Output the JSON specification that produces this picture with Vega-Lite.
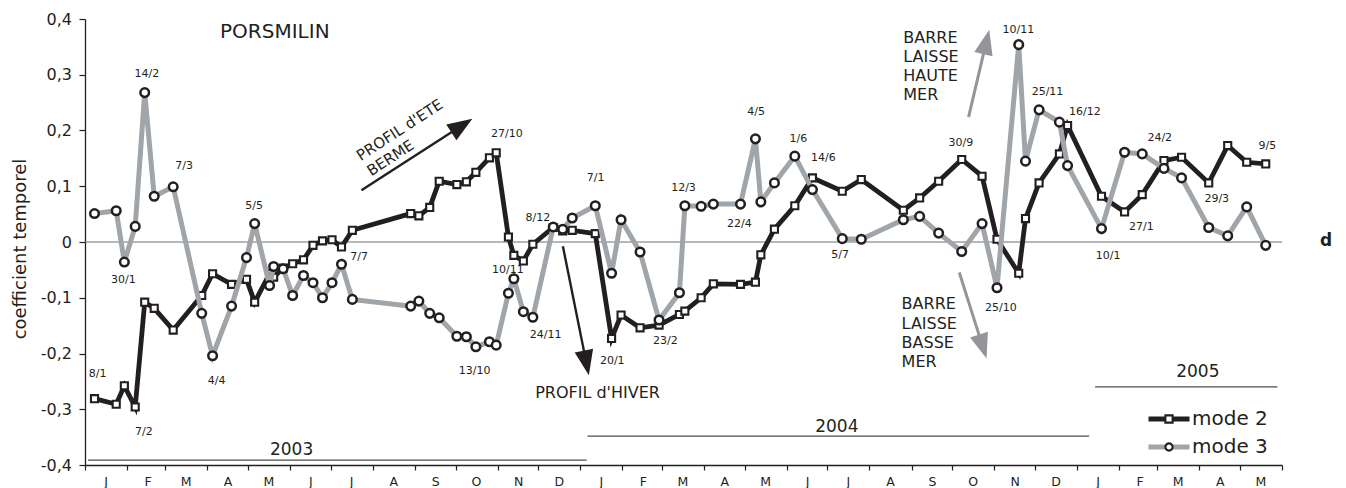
{
  "$schema": "https://vega.github.io/schema/vega-lite/v6.json",
  "width": 1197,
  "height": 446,
  "autosize": {"type": "none"},
  "padding": {"left": 85, "top": 19, "right": 64, "bottom": 23},
  "background": "white",
  "config": {"view": {"stroke": null}, "font": "DejaVu Sans", "axis": {"grid": false}},
  "resolve": {"axis": {"x": "independent", "y": "independent"}},
  "datasets": {
    "series": [
      {"date": "2003-01-08T00:00", "mode 2": -0.281, "mode 3": 0.051},
      {"date": "2003-01-24T00:00", "mode 2": -0.291, "mode 3": 0.056},
      {"date": "2003-01-30T00:00", "mode 2": -0.258, "mode 3": -0.036},
      {"date": "2003-02-07T00:00", "mode 2": -0.296, "mode 3": 0.028},
      {"date": "2003-02-14T00:00", "mode 2": -0.108, "mode 3": 0.268},
      {"date": "2003-02-21T00:00", "mode 2": -0.119, "mode 3": 0.082},
      {"date": "2003-03-07T00:00", "mode 2": -0.158, "mode 3": 0.099},
      {"date": "2003-03-28T00:00", "mode 2": -0.096, "mode 3": -0.128},
      {"date": "2003-04-05T00:00", "mode 2": -0.057, "mode 3": -0.204},
      {"date": "2003-04-19T00:00", "mode 2": -0.076, "mode 3": -0.115},
      {"date": "2003-04-30T00:00", "mode 2": -0.067, "mode 3": -0.028},
      {"date": "2003-05-06T00:00", "mode 2": -0.108, "mode 3": 0.033},
      {"date": "2003-05-17T00:00", "mode 2": -0.057, "mode 3": -0.078},
      {"date": "2003-05-20T00:00", "mode 2": -0.063, "mode 3": -0.044},
      {"date": "2003-05-27T00:00", "mode 2": -0.047, "mode 3": -0.048},
      {"date": "2003-06-03T00:00", "mode 2": -0.039, "mode 3": -0.096},
      {"date": "2003-06-11T00:00", "mode 2": -0.032, "mode 3": -0.060},
      {"date": "2003-06-18T00:00", "mode 2": -0.006, "mode 3": -0.073},
      {"date": "2003-06-25T00:00", "mode 2": 0.002, "mode 3": -0.100},
      {"date": "2003-07-02T00:00", "mode 2": 0.004, "mode 3": -0.073},
      {"date": "2003-07-09T00:00", "mode 2": -0.009, "mode 3": -0.040},
      {"date": "2003-07-17T00:00", "mode 2": 0.021, "mode 3": -0.103},
      {"date": "2003-08-29T00:00", "mode 2": 0.051, "mode 3": -0.115},
      {"date": "2003-09-04T00:00", "mode 2": 0.047, "mode 3": -0.106},
      {"date": "2003-09-12T00:00", "mode 2": 0.062, "mode 3": -0.128},
      {"date": "2003-09-19T00:00", "mode 2": 0.109, "mode 3": -0.136},
      {"date": "2003-10-02T00:00", "mode 2": 0.103, "mode 3": -0.169},
      {"date": "2003-10-09T00:00", "mode 2": 0.108, "mode 3": -0.170},
      {"date": "2003-10-16T00:00", "mode 2": 0.125, "mode 3": -0.188},
      {"date": "2003-10-26T00:00", "mode 2": 0.151, "mode 3": -0.179},
      {"date": "2003-10-31T00:00", "mode 2": 0.160, "mode 3": -0.185},
      {"date": "2003-11-09T00:00", "mode 2": 0.009, "mode 3": -0.092},
      {"date": "2003-11-13T00:00", "mode 2": -0.024, "mode 3": -0.066},
      {"date": "2003-11-20T00:00", "mode 2": -0.034, "mode 3": -0.125},
      {"date": "2003-11-27T00:00", "mode 2": -0.004, "mode 3": -0.135},
      {"date": "2003-12-12T00:00", "mode 2": 0.026, "mode 3": 0.027},
      {"date": "2003-12-19T00:00", "mode 2": 0.020, "mode 3": 0.023},
      {"date": "2003-12-26T00:00", "mode 2": 0.021, "mode 3": 0.043},
      {"date": "2004-01-12T00:00", "mode 2": 0.015, "mode 3": 0.065},
      {"date": "2004-01-24T00:00", "mode 2": -0.173, "mode 3": -0.056},
      {"date": "2004-01-31T00:00", "mode 2": -0.131, "mode 3": 0.040},
      {"date": "2004-02-14T00:00", "mode 2": -0.154, "mode 3": -0.018},
      {"date": "2004-02-28T00:00", "mode 2": -0.149, "mode 3": -0.140},
      {"date": "2004-03-14T00:00", "mode 2": -0.130, "mode 3": -0.091},
      {"date": "2004-03-18T00:00", "mode 2": -0.124, "mode 3": 0.065},
      {"date": "2004-03-30T00:00", "mode 2": -0.100, "mode 3": 0.064},
      {"date": "2004-04-08T00:00", "mode 2": -0.075, "mode 3": 0.068},
      {"date": "2004-04-28T00:00", "mode 2": -0.076, "mode 3": 0.068},
      {"date": "2004-05-09T00:00", "mode 2": -0.072, "mode 3": 0.185},
      {"date": "2004-05-13T00:00", "mode 2": -0.023, "mode 3": 0.072},
      {"date": "2004-05-23T00:00", "mode 2": 0.023, "mode 3": 0.106},
      {"date": "2004-06-07T00:00", "mode 2": 0.065, "mode 3": 0.154},
      {"date": "2004-06-20T00:00", "mode 2": 0.115, "mode 3": 0.094},
      {"date": "2004-07-12T00:00", "mode 2": 0.091, "mode 3": 0.006},
      {"date": "2004-07-26T00:00", "mode 2": 0.112, "mode 3": 0.005},
      {"date": "2004-08-26T00:00", "mode 2": 0.057, "mode 3": 0.040},
      {"date": "2004-09-07T00:00", "mode 2": 0.079, "mode 3": 0.046},
      {"date": "2004-09-21T00:00", "mode 2": 0.109, "mode 3": 0.016},
      {"date": "2004-10-08T00:00", "mode 2": 0.148, "mode 3": -0.017},
      {"date": "2004-10-23T00:00", "mode 2": 0.118, "mode 3": 0.033},
      {"date": "2004-11-03T00:00", "mode 2": 0.005, "mode 3": -0.082},
      {"date": "2004-11-19T00:00", "mode 2": -0.056, "mode 3": 0.354},
      {"date": "2004-11-24T00:00", "mode 2": 0.042, "mode 3": 0.145},
      {"date": "2004-12-04T00:00", "mode 2": 0.106, "mode 3": 0.237},
      {"date": "2004-12-19T00:00", "mode 2": 0.158, "mode 3": 0.215},
      {"date": "2004-12-25T00:00", "mode 2": 0.209, "mode 3": 0.137},
      {"date": "2005-01-19T00:00", "mode 2": 0.082, "mode 3": 0.024},
      {"date": "2005-02-05T00:00", "mode 2": 0.054, "mode 3": 0.161},
      {"date": "2005-02-18T00:00", "mode 2": 0.085, "mode 3": 0.158},
      {"date": "2005-03-06T00:00", "mode 2": 0.146, "mode 3": 0.132},
      {"date": "2005-03-19T00:00", "mode 2": 0.152, "mode 3": 0.115},
      {"date": "2005-04-08T00:00", "mode 2": 0.106, "mode 3": 0.026},
      {"date": "2005-04-22T00:00", "mode 2": 0.173, "mode 3": 0.011},
      {"date": "2005-05-06T00:00", "mode 2": 0.143, "mode 3": 0.063},
      {"date": "2005-05-20T00:00", "mode 2": 0.140, "mode 3": -0.006}
    ],
    "dateLabels": [
      {"label": "8/1", "date": "2003-01-10T08:00", "value": -0.2371},
      {"label": "30/1", "date": "2003-01-29T05:00", "value": -0.0686},
      {"label": "14/2", "date": "2003-02-15T14:00", "value": 0.3018},
      {"label": "7/2", "date": "2003-02-13T10:00", "value": -0.3416},
      {"label": "7/3", "date": "2003-03-15T02:00", "value": 0.1362},
      {"label": "4/4", "date": "2003-04-08T00:00", "value": -0.2491},
      {"label": "5/5", "date": "2003-05-05T14:00", "value": 0.0645},
      {"label": "7/7", "date": "2003-07-21T22:00", "value": -0.0269},
      {"label": "13/10", "date": "2003-10-15T02:00", "value": -0.2312},
      {"label": "27/10", "date": "2003-11-07T22:00", "value": 0.1943},
      {"label": "10/11", "date": "2003-11-08T14:00", "value": -0.0495},
      {"label": "24/11", "date": "2003-12-06T10:00", "value": -0.1677},
      {"label": "8/12", "date": "2003-11-30T17:00", "value": 0.0437},
      {"label": "7/1", "date": "2004-01-12T05:00", "value": 0.1147},
      {"label": "20/1", "date": "2004-01-24T12:00", "value": -0.2133},
      {"label": "23/2", "date": "2004-03-03T17:00", "value": -0.1774},
      {"label": "12/3", "date": "2004-03-17T00:00", "value": 0.0975},
      {"label": "22/4", "date": "2004-04-27T05:00", "value": 0.033},
      {"label": "4/5", "date": "2004-05-09T12:00", "value": 0.233},
      {"label": "1/6", "date": "2004-06-09T17:00", "value": 0.1853},
      {"label": "14/6", "date": "2004-06-28T02:00", "value": 0.1513},
      {"label": "5/7", "date": "2004-07-10T10:00", "value": -0.0238},
      {"label": "30/9", "date": "2004-10-07T10:00", "value": 0.1774},
      {"label": "25/10", "date": "2004-11-05T22:00", "value": -0.1183},
      {"label": "10/11", "date": "2004-11-18T19:00", "value": 0.3794},
      {"label": "25/11", "date": "2004-12-10T05:00", "value": 0.2688},
      {"label": "16/12", "date": "2005-01-06T17:00", "value": 0.2324},
      {"label": "10/1", "date": "2005-01-23T22:00", "value": -0.0251},
      {"label": "27/1", "date": "2005-02-17T10:00", "value": 0.0269},
      {"label": "24/2", "date": "2005-03-02T22:00", "value": 0.1864},
      {"label": "29/3", "date": "2005-04-13T22:00", "value": 0.0765},
      {"label": "9/5", "date": "2005-05-21T05:00", "value": 0.172}
    ],
    "years": [
      {"year": "2003", "start": "2003-01-03T05:00", "end": "2004-01-05T14:00", "value": -0.3912, "labelDate": "2003-06-02T05:00", "labelValue": -0.3733},
      {"year": "2004", "start": "2004-01-06T07:00", "end": "2005-01-09T22:00", "value": -0.3482, "labelDate": "2004-07-08T00:00", "labelValue": -0.3315},
      {"year": "2005", "start": "2005-01-14T07:00", "end": "2005-05-28T14:00", "value": -0.2599, "labelDate": "2005-03-31T00:00", "labelValue": -0.233}
    ],
    "arrows": [
      {"arrow": "ete", "date": "2003-07-23T17:00", "value": 0.0927, "date2": "2003-10-06T00:00", "value2": 0.2095, "tipDate": "2003-10-13T10:00", "tipValue": 0.2211},
      {"arrow": "hiver", "date": "2003-12-19T03:00", "value": -0.0077, "date2": "2004-01-05T12:00", "value2": -0.2177, "tipDate": "2004-01-07T06:00", "tipValue": -0.2389},
      {"arrow": "haute", "date": "2004-10-13T01:00", "value": 0.224, "date2": "2004-10-26T05:00", "value2": 0.3597, "tipDate": "2004-10-28T06:00", "tipValue": 0.3806},
      {"arrow": "basse", "date": "2004-10-06T05:00", "value": -0.0548, "date2": "2004-10-23T15:00", "value2": -0.1885, "tipDate": "2004-10-26T07:00", "tipValue": -0.209}
    ],
    "barre": [
      {"text": "BARRE", "date": "2004-08-25T23:00", "value": 0.3656},
      {"text": "LAISSE", "date": "2004-08-25T23:00", "value": 0.3315},
      {"text": "HAUTE", "date": "2004-08-25T23:00", "value": 0.2975},
      {"text": "MER", "date": "2004-08-25T23:00", "value": 0.2634},
      {"text": "BARRE", "date": "2004-08-24T17:00", "value": -0.1116},
      {"text": "LAISSE", "date": "2004-08-24T17:00", "value": -0.1462},
      {"text": "BASSE", "date": "2004-08-24T17:00", "value": -0.1803},
      {"text": "MER", "date": "2004-08-24T17:00", "value": -0.2151}
    ],
    "ete": [
      {"text": "PROFIL d'ETE", "date": "2003-08-20T22:00", "value": 0.201},
      {"text": "BERME", "date": "2003-08-14T03:00", "value": 0.1509}
    ]
  },
  "layer": [
    {
      "data": {"values": [{}]},
      "mark": {"type": "rule", "color": "#6d6e71", "strokeWidth": 1},
      "encoding": {"y": {"datum": 0, "type": "quantitative", "axis": null}}
    },
    {
      "data": {"name": "years"},
      "mark": {"type": "rule", "color": "#4d4d4f", "strokeWidth": 1.2},
      "encoding": {
        "x": {"field": "start", "type": "temporal", "axis": null},
        "x2": {"field": "end"},
        "y": {"field": "value", "type": "quantitative", "axis": null}
      }
    },
    {
      "data": {"name": "years"},
      "mark": {"type": "text", "fontSize": 17, "color": "#231f20", "align": "center", "baseline": "middle"},
      "encoding": {
        "x": {"field": "labelDate", "type": "temporal", "axis": null},
        "y": {"field": "labelValue", "type": "quantitative", "axis": null},
        "text": {"field": "year"}
      }
    },
    {
      "data": {"name": "arrows"},
      "transform": [{"filter": "datum.arrow == 'ete' || datum.arrow == 'hiver'"}],
      "mark": {"type": "rule", "color": "#231f20", "strokeWidth": 2.4},
      "encoding": {
        "x": {"field": "date", "type": "temporal", "axis": null},
        "y": {"field": "value", "type": "quantitative", "axis": null},
        "x2": {"field": "date2"},
        "y2": {"field": "value2"}
      }
    },
    {
      "data": {"name": "arrows"},
      "transform": [{"filter": "datum.arrow == 'haute' || datum.arrow == 'basse'"}],
      "mark": {"type": "rule", "color": "#939598", "strokeWidth": 3},
      "encoding": {
        "x": {"field": "date", "type": "temporal", "axis": null},
        "y": {"field": "value", "type": "quantitative", "axis": null},
        "x2": {"field": "date2"},
        "y2": {"field": "value2"}
      }
    },
    {
      "data": {"name": "arrows"},
      "transform": [{"filter": "datum.arrow == 'ete'"}],
      "mark": {"type": "point", "filled": true, "shape": "M0,0L-0.75,2L0.75,2Z", "size": 625, "angle": 57.1, "color": "#231f20", "opacity": 1, "strokeWidth": 0},
      "encoding": {
        "x": {"field": "tipDate", "type": "temporal", "axis": null},
        "y": {"field": "tipValue", "type": "quantitative", "axis": null}
      }
    },
    {
      "data": {"name": "arrows"},
      "transform": [{"filter": "datum.arrow == 'hiver'"}],
      "mark": {"type": "point", "filled": true, "shape": "M0,0L-0.75,2L0.75,2Z", "size": 625, "angle": 168.6, "color": "#231f20", "opacity": 1, "strokeWidth": 0},
      "encoding": {
        "x": {"field": "tipDate", "type": "temporal", "axis": null},
        "y": {"field": "tipValue", "type": "quantitative", "axis": null}
      }
    },
    {
      "data": {"name": "arrows"},
      "transform": [{"filter": "datum.arrow == 'haute'"}],
      "mark": {"type": "point", "filled": true, "shape": "M0,0L-0.75,2L0.75,2Z", "size": 625, "angle": 13.3, "color": "#939598", "opacity": 1, "strokeWidth": 0},
      "encoding": {
        "x": {"field": "tipDate", "type": "temporal", "axis": null},
        "y": {"field": "tipValue", "type": "quantitative", "axis": null}
      }
    },
    {
      "data": {"name": "arrows"},
      "transform": [{"filter": "datum.arrow == 'basse'"}],
      "mark": {"type": "point", "filled": true, "shape": "M0,0L-0.75,2L0.75,2Z", "size": 625, "angle": 162.4, "color": "#939598", "opacity": 1, "strokeWidth": 0},
      "encoding": {
        "x": {"field": "tipDate", "type": "temporal", "axis": null},
        "y": {"field": "tipValue", "type": "quantitative", "axis": null}
      }
    },
    {
      "data": {"name": "series"},
      "transform": [{"fold": ["mode 2", "mode 3"], "as": ["mode", "value"]}, {"filter": "datum.mode == 'mode 2'"}],
      "mark": {"type": "line", "strokeWidth": 4.8, "strokeJoin": "miter"},
      "encoding": {
        "x": {
          "field": "date", "type": "temporal", "title": null,
          "scale": {"domain": [{"year": 2003, "month": 1, "date": 1}, {"year": 2005, "month": 6, "date": 1}], "nice": false},
          "axis": {
            "title": null, "tickCount": {"interval": "month", "step": 1},
            "labelExpr": "datum.value >= datetime(2005, 5, 1) ? '' : substring(timeFormat(datum.value, '%b'), 0, 1)",
            "labelOffset": 20.5, "labelAlign": "center", "labelBaseline": "top", "labelFontSize": 12.5, "labelColor": "#231f20",
            "labelPadding": 5, "labelFlush": false, "labelOverlap": false, "labelBound": false,
            "tickSize": 5, "tickColor": "#231f20", "tickWidth": 1.2, "domainColor": "#231f20", "domainWidth": 1.3, "grid": false
          }
        },
        "y": {
          "field": "value", "type": "quantitative",
          "scale": {"domain": [-0.4, 0.4], "nice": false, "zero": false},
          "axis": {
            "title": "coefficient temporel", "values": [-0.4, -0.3, -0.2, -0.1, 0, 0.1, 0.2, 0.3, 0.4],
            "labelExpr": "datum.value == 0 ? '0' : (datum.value < 0 ? '-' : '') + '0,' + format(abs(datum.value) * 10, '.0f')",
            "labelFontSize": 16, "labelColor": "#231f20", "labelPadding": 7.5, "labelBaseline": "middle",
            "tickSize": 6, "tickColor": "#231f20", "tickWidth": 1.2, "domainColor": "#231f20", "domainWidth": 1.3, "grid": false,
            "titleFontSize": 18, "titleFontWeight": "normal", "titleColor": "#231f20",
            "titleX": -60, "titleY": 229.5, "titleBaseline": "alphabetic", "titleAngle": -90, "titleAlign": "center"
          }
        },
        "stroke": {
          "field": "mode", "type": "nominal",
          "scale": {"range": ["#231f20", "#a0a5aa"]},
          "legend": {
            "orient": "none", "legendX": 1062, "legendY": 390, "title": null, "padding": 0,
            "symbolType": "M-8.2,0H8.2", "symbolSize": 25, "symbolStrokeWidth": 5, "symbolOffset": 12,
            "labelOffset": 13, "labelFontSize": 20, "labelColor": "#231f20", "rowPadding": 8, "direction": "vertical"
          }
        }
      }
    },
    {
      "data": {"name": "series"},
      "transform": [{"fold": ["mode 2", "mode 3"], "as": ["mode", "value"]}, {"filter": "datum.mode == 'mode 2'"}],
      "mark": {"type": "point", "filled": false, "fill": "white", "stroke": "#231f20", "strokeWidth": 2.1, "size": 50, "opacity": 1, "fillOpacity": 1},
      "encoding": {
        "x": {"field": "date", "type": "temporal", "axis": null},
        "y": {"field": "value", "type": "quantitative", "axis": null},
        "shape": {
          "field": "mode", "type": "nominal",
          "scale": {"domain": ["mode 2", "mode 3"], "range": ["square", "circle"]},
          "legend": {
            "orient": "none", "legendX": 1062, "legendY": 390, "title": null, "padding": 0,
            "symbolSize": 52, "symbolStrokeWidth": 2.1, "symbolFillColor": "white", "symbolOffset": 12,
            "labelOffset": 13, "labelFontSize": 20, "labelOpacity": 0, "rowPadding": 8, "direction": "vertical"
          }
        }
      }
    },
    {
      "data": {"name": "series"},
      "transform": [{"fold": ["mode 2", "mode 3"], "as": ["mode", "value"]}, {"filter": "datum.mode == 'mode 3'"}],
      "mark": {"type": "line", "strokeWidth": 5, "strokeJoin": "miter"},
      "encoding": {
        "x": {"field": "date", "type": "temporal", "axis": null},
        "y": {"field": "value", "type": "quantitative", "axis": null},
        "stroke": {
          "field": "mode", "type": "nominal",
          "scale": {"range": ["#231f20", "#a0a5aa"]},
          "legend": {
            "orient": "none", "legendX": 1062, "legendY": 390, "title": null, "padding": 0,
            "symbolType": "M-8.2,0H8.2", "symbolSize": 25, "symbolStrokeWidth": 5, "symbolOffset": 12,
            "labelOffset": 13, "labelFontSize": 20, "labelColor": "#231f20", "rowPadding": 8, "direction": "vertical"
          }
        }
      }
    },
    {
      "data": {"name": "series"},
      "transform": [{"fold": ["mode 2", "mode 3"], "as": ["mode", "value"]}, {"filter": "datum.mode == 'mode 3'"}],
      "mark": {"type": "point", "filled": false, "fill": "white", "stroke": "#231f20", "strokeWidth": 2.5, "size": 74, "opacity": 1, "fillOpacity": 1},
      "encoding": {
        "x": {"field": "date", "type": "temporal", "axis": null},
        "y": {"field": "value", "type": "quantitative", "axis": null},
        "shape": {
          "field": "mode", "type": "nominal",
          "scale": {"domain": ["mode 2", "mode 3"], "range": ["square", "circle"]},
          "legend": {
            "orient": "none", "legendX": 1062, "legendY": 390, "title": null, "padding": 0,
            "symbolSize": 52, "symbolStrokeWidth": 2.1, "symbolFillColor": "white", "symbolOffset": 12,
            "labelOffset": 13, "labelFontSize": 20, "labelOpacity": 0, "rowPadding": 8, "direction": "vertical"
          }
        }
      }
    },
    {
      "data": {"name": "dateLabels"},
      "mark": {"type": "text", "fontSize": 11, "color": "#231f20", "align": "center", "baseline": "middle"},
      "encoding": {
        "x": {"field": "date", "type": "temporal", "axis": null},
        "y": {"field": "value", "type": "quantitative", "axis": null},
        "text": {"field": "label"}
      }
    },
    {
      "data": {"values": [{"text": "PORSMILIN", "date": "2003-05-20T21:00", "value": 0.3763}]},
      "mark": {"type": "text", "fontSize": 20, "color": "#231f20", "align": "center", "baseline": "middle"},
      "encoding": {
        "x": {"field": "date", "type": "temporal", "axis": null},
        "y": {"field": "value", "type": "quantitative", "axis": null},
        "text": {"field": "text"}
      }
    },
    {
      "data": {"values": [{"text": "PROFIL d'HIVER", "date": "2004-01-13T16:00", "value": -0.2717}]},
      "mark": {"type": "text", "fontSize": 16, "color": "#231f20", "align": "center", "baseline": "middle"},
      "encoding": {
        "x": {"field": "date", "type": "temporal", "axis": null},
        "y": {"field": "value", "type": "quantitative", "axis": null},
        "text": {"field": "text"}
      }
    },
    {
      "data": {"name": "ete"},
      "mark": {"type": "text", "fontSize": 15, "color": "#231f20", "align": "center", "baseline": "middle", "angle": -33},
      "encoding": {
        "x": {"field": "date", "type": "temporal", "axis": null},
        "y": {"field": "value", "type": "quantitative", "axis": null},
        "text": {"field": "text"}
      }
    },
    {
      "data": {"name": "barre"},
      "mark": {"type": "text", "fontSize": 16, "color": "#231f20", "align": "left", "baseline": "middle"},
      "encoding": {
        "x": {"field": "date", "type": "temporal", "axis": null},
        "y": {"field": "value", "type": "quantitative", "axis": null},
        "text": {"field": "text"}
      }
    },
    {
      "data": {"values": [{"text": "d", "date": "2005-07-03T10:00", "value": 0.0025}]},
      "mark": {"type": "text", "fontSize": 17, "fontWeight": "bold", "color": "#231f20", "align": "center", "baseline": "middle"},
      "encoding": {
        "x": {"field": "date", "type": "temporal", "axis": null},
        "y": {"field": "value", "type": "quantitative", "axis": null},
        "text": {"field": "text"}
      }
    }
  ]
}
